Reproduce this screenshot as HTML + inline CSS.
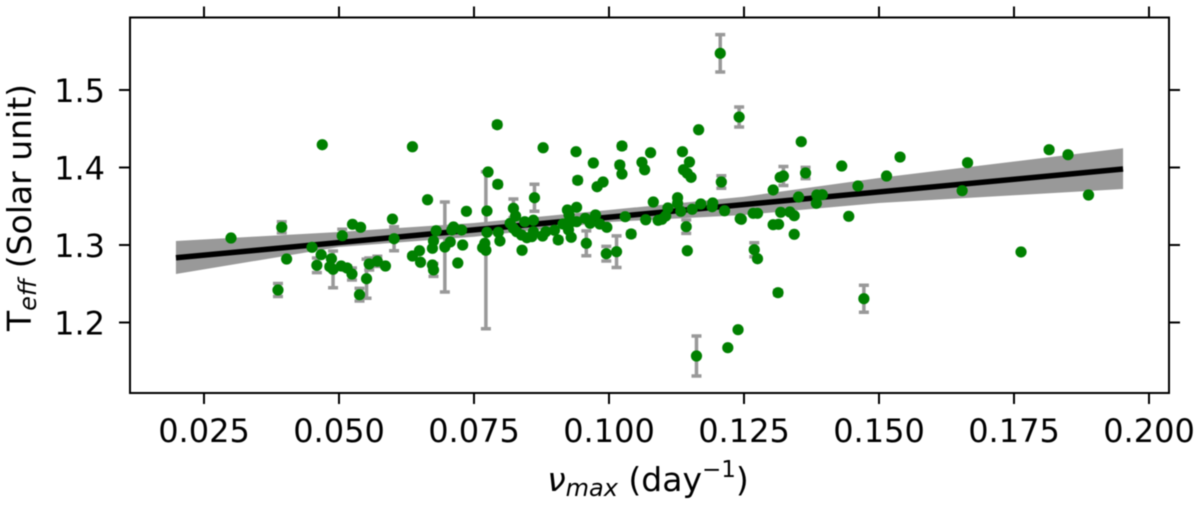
<!DOCTYPE html>
<html>
<head>
<meta charset="utf-8">
<title>Teff vs numax</title>
<style>
html,body{margin:0;padding:0;background:#fff;}
svg{display:block;font-family:"DejaVu Sans","Liberation Sans",sans-serif;filter:blur(0.4px);}
text{fill:#000;}
</style>
</head>
<body>
<svg id="chart" width="1200" height="506" viewBox="0 0 1200 506" xmlns="http://www.w3.org/2000/svg">
  <rect x="0" y="0" width="1200" height="506" fill="#fff"/>
  <g id="errors"></g>
  <path id="band" fill="#999999" stroke="none"></path>
  <path id="fit" fill="none" stroke="#000" stroke-width="5.5"></path>
  <g id="points"></g>
  <rect x="130" y="17.5" width="1039" height="375.5" fill="none" stroke="#000" stroke-width="2"/>
  <g id="ticks"></g>
  <text x="648" y="491" text-anchor="middle" font-size="33"><tspan font-style="italic">ν</tspan><tspan font-style="italic" font-size="24" dy="5">max</tspan><tspan dy="-5"> (day</tspan><tspan font-size="23" dy="-14">−1</tspan><tspan dy="14">)</tspan></text>
  <text transform="translate(31,207.5) rotate(-90)" text-anchor="middle" font-size="33">T<tspan font-style="italic" font-size="24" dy="5">eff</tspan><tspan dy="-5"> (Solar unit)</tspan></text>
</svg>
<script>
const xTickValues = [0.025, 0.05, 0.075, 0.1, 0.125, 0.15, 0.175, 0.2];
const xTickLabels = ["0.025", "0.050", "0.075", "0.100", "0.125", "0.150", "0.175", "0.200"];
const yTickValues = [1.2, 1.3, 1.4, 1.5];
const yTickLabels = ["1.2", "1.3", "1.4", "1.5"];
const fitX = [0.0198, 0.1952];
const fitY = [1.2835, 1.398];
const bandX = [0.0198, 0.05, 0.075, 0.1, 0.125, 0.15, 0.1952];
const bandUpper = [1.3052, 1.3168, 1.3284, 1.3452, 1.3623, 1.3865, 1.4248];
const bandLower = [1.2626, 1.2974, 1.3107, 1.3297, 1.3387, 1.3542, 1.3723];
const numax = [
.0469,.0300,.0394,.0450,.0403,.0467,.0486,.0459,.0483,.0489,
.0504,.0515,.0524,.0551,.0556,.0571,.0538,.0387,.0525,.0540,
.0506,.0793,.0636,.0878,.0939,.0971,.1024,.1020,.1024,.0776,
.0794,.0942,.0989,.0978,.0664,.0736,.0774,.0862,.0823,.0827,
.0599,.0602,.0680,.0709,.0712,.0727,.0774,.0795,.0798,.0817,
.0844,.0860,.0823,.0829,.0838,.0848,.0860,.0857,.0877,.0883,
.0899,.0906,.0923,.0940,.0926,.0915,.0928,.0940,.0956,.0975,
.0965,.0983,.0996,.0925,.0930,.0958,.0995,.1014,.0839,.0729,
.0706,.0696,.0673,.0675,.0649,.0636,.0651,.0673,.0675,.0720,
.0766,.0772,.0770,.0586,.1206,.1241,.1166,.1077,.1136,.1356,
.1061,.1066,.1149,.1138,.1145,.1152,.1208,.1323,.1317,.1364,
.1431,.1304,.1461,.1351,.1385,.1395,.1384,.1082,.1127,.1127,
.1109,.1133,.1154,.1170,.1192,.1191,.1214,.1030,.1068,.1091,
.1098,.1105,.1243,.1245,.1267,.1275,.1318,.1335,.1343,.1304,
.1314,.1444,.1343,.1143,.1041,.1145,.1269,.1275,.1313,.1472,
.1239,.1220,.1162,.1514,.1539,.1664,.1654,.1815,.1850,.1888,
.1763
];
const teff = [
1.4294,1.3090,1.3228,1.2970,1.2819,1.2875,1.2823,1.2738,1.2720,1.2686,
1.2729,1.2703,1.2626,1.2565,1.2755,1.2790,1.2359,1.2419,1.3267,1.3228,
1.3120,1.4552,1.4268,1.4255,1.4204,1.4058,1.4277,1.4032,1.3916,1.3942,
1.3783,1.3835,1.3813,1.3752,1.3584,1.3435,1.3439,1.3610,1.3473,1.3374,
1.3335,1.3081,1.3184,1.3194,1.3232,1.3194,1.3164,1.3164,1.3052,1.3280,
1.3301,1.3319,1.3215,1.3172,1.3129,1.3094,1.3172,1.3107,1.3116,1.3172,
1.3190,1.3065,1.3452,1.3486,1.3387,1.3271,1.3288,1.3301,1.3344,1.3387,
1.3280,1.3271,1.3228,1.3194,1.3099,1.3022,1.2888,1.2914,1.2932,1.3000,
1.3039,1.2974,1.2957,1.3052,1.2926,1.2858,1.2777,1.2742,1.2678,1.2768,
1.2965,1.2932,1.3022,1.2729,1.5473,1.4651,1.4487,1.4191,1.4204,1.4333,
1.4067,1.3971,1.4071,1.3971,1.3925,1.3873,1.3813,1.3890,1.3873,1.3929,
1.4019,1.3710,1.3761,1.3619,1.3645,1.3649,1.3538,1.3555,1.3610,1.3538,
1.3477,1.3435,1.3461,1.3529,1.3542,1.3494,1.3442,1.3365,1.3326,1.3319,
1.3332,1.3374,1.3339,1.3332,1.3409,1.3409,1.3422,1.3426,1.3378,1.3262,
1.3267,1.3370,1.3138,1.3236,1.3142,1.2926,1.2939,1.2823,1.2385,1.2307,
1.1907,1.1675,1.1568,1.3890,1.4135,1.4062,1.3701,1.4230,1.4165,1.3645,
1.2910
];
const teffErr = [
0,0,.0072,0,0,0,0,.0095,.002,.0237,
0,.003,.0077,.0252,.0077,.0065,.0081,.0084,0,0,
.0083,.003,0,0,0,0,.003,.003,0,0,
.003,.003,0,0,0,.002,0,.0174,.012,0,
0,.0155,0,0,0,0,0,0,0,0,
0,0,0,0,0,0,0,0,0,0,
0,.003,0,0,0,0,0,0,0,0,
0,0,0,0,0,.0161,.0094,.0204,0,.002,
0,.0581,0,0,0,.002,0,0,.0083,0,
0,.1013,0,0,.0241,.0129,0,0,0,0,
0,0,0,0,0,0,.008,.0123,0,.0072,
0,0,0,0,0,0,0,0,0,0,
0,0,0,0,0,0,.003,0,0,0,
0,0,0,0,0,0,0,0,0,0,
0,0,0,.0086,.003,0,.009,0,.003,.0174,
0,0,.0258,0,.002,.002,0,.002,0,0,
0
];

const SVG_NS = "http://www.w3.org/2000/svg";
function xScale(v) { return 204 + (v - 0.025) * 5400; }
function yScale(v) { return 245 - (v - 1.3) * 775; }
function make(tag, attrs, parent) {
  const el = document.createElementNS(SVG_NS, tag);
  for (const k in attrs) el.setAttribute(k, attrs[k]);
  parent.appendChild(el);
  return el;
}

const errGroup = document.getElementById("errors");
const ptGroup = document.getElementById("points");
numax.forEach(function (v, i) {
  const cx = xScale(v);
  const cy = yScale(teff[i]);
  const e = teffErr[i];
  if (e > 0) {
    const top = yScale(teff[i] + e);
    const bot = yScale(teff[i] - e);
    const bar = make("path", {
      d: "M" + cx + " " + top + "V" + bot + "M" + (cx - 5) + " " + top + "H" + (cx + 5) + "M" + (cx - 5) + " " + bot + "H" + (cx + 5),
      fill: "none", stroke: "#999999", "stroke-width": 3.5
    }, errGroup);
    
    
  }
  const dot = make("circle", { cx: cx, cy: cy, r: 5.6, fill: "#008000" }, ptGroup);
  
  
});

let bandPath = "";
bandX.forEach(function (v, i) {
  bandPath += (i ? "L" : "M") + xScale(v) + " " + yScale(bandUpper[i]);
});
for (let i = bandX.length - 1; i >= 0; i--) {
  bandPath += "L" + xScale(bandX[i]) + " " + yScale(bandLower[i]);
}
document.getElementById("band").setAttribute("d", bandPath + "Z");
document.getElementById("fit").setAttribute("d",
  "M" + xScale(fitX[0]) + " " + yScale(fitY[0]) + "L" + xScale(fitX[1]) + " " + yScale(fitY[1]));

const tickGroup = document.getElementById("ticks");
const plotLeft = 130, plotRight = 1169, plotTop = 17.5, plotBottom = 393, tickLen = 11;
xTickValues.forEach(function (v, i) {
  const x = xScale(v);
  const t1 = make("line", { x1: x, x2: x, y1: plotBottom, y2: plotBottom + tickLen, stroke: "#000", "stroke-width": 2 }, tickGroup);
  
  
  const t2 = make("line", { x1: x, x2: x, y1: plotTop, y2: plotTop - tickLen, stroke: "#000", "stroke-width": 2 }, tickGroup);
  
  
  const lab = make("text", { x: x, y: 442, "text-anchor": "middle", "font-size": 32 }, tickGroup);
  lab.textContent = xTickLabels[i];
  
  
});
yTickValues.forEach(function (v, i) {
  const y = yScale(v);
  const t1 = make("line", { x1: plotLeft, x2: plotLeft - tickLen, y1: y, y2: y, stroke: "#000", "stroke-width": 2 }, tickGroup);
  
  
  const t2 = make("line", { x1: plotRight, x2: plotRight + tickLen, y1: y, y2: y, stroke: "#000", "stroke-width": 2 }, tickGroup);
  
  
  const lab = make("text", { x: 105, y: y + 12, "text-anchor": "end", "font-size": 32 }, tickGroup);
  lab.textContent = yTickLabels[i];
  
  
});
</script>
</body>
</html>
